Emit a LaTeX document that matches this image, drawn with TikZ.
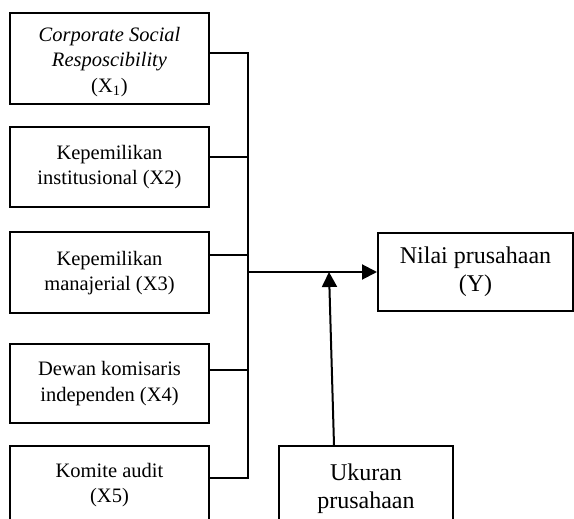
\documentclass[tikz,border=0pt]{standalone}
\usepackage{fontspec}
\setmainfont{Liberation Serif}
\usetikzlibrary{arrows.meta}
\begin{document}
\begin{tikzpicture}[x=0.5pt,y=-0.5pt,
  box/.style={draw, line width=1pt, inner sep=0pt, align=center},
  lt/.style={font=\fontsize{10.25}{12.6}\selectfont},
  rt/.style={font=\fontsize{12}{14.2}\selectfont},
  txt/.style={align=center, inner sep=0pt},
  wire/.style={line width=1pt},
  arr/.style={line width=1pt, -{Triangle[length=7.5pt,width=7.5pt]}}]
\useasboundingbox (0,0) rectangle (574,519);
\clip (0,0) rectangle (574,519);

% left boxes
\node[box, lt, minimum width=99.5pt, minimum height=45.5pt] (x1) at (109.5,58.5) {};
\node[txt, lt] (t1) at (109.5,62) {\textit{Corporate Social}\\\textit{Resposcibility}\\(X\textsubscript{1})};
\node[box, lt, minimum width=99.5pt, minimum height=40pt] (x2) at (109.5,167) {Kepemilikan\\institusional (X2)};
\node[box, lt, minimum width=99.5pt, minimum height=40.5pt] (x3) at (109.5,273) {Kepemilikan\\manajerial (X3)};
\node[box, lt, minimum width=99.5pt, minimum height=39.5pt] (x4) at (109.5,383.5) {Dewan komisaris\\independen (X4)};
\node[box, lt, minimum width=99.5pt, minimum height=57pt] (x5) at (109.5,503) {};
\node[txt, lt, anchor=north] (t5) at (109.5,463) {Komite audit\\(X5)};

% right boxes
\node[box, rt, minimum width=97.5pt, minimum height=39pt] (y) at (475.5,272) {Nilai prusahaan\\(Y)};
\node[box, rt, minimum width=87pt, minimum height=57pt] (uk) at (366,503) {};
\node[txt, rt, anchor=north] (tu) at (366,463) {Ukuran\\prusahaan};

% bus
\coordinate (bt) at (248,53);
\coordinate (bb) at (248,478);
\coordinate (c2) at (248,157);
\coordinate (c3) at (248,255);
\coordinate (c4) at (248,370);
\coordinate (m) at (248,272);
\coordinate (j) at (329,272);

\draw[wire] (x1.east |- bt) -- (bt) -- (bb) -- (x5.east |- bb);
\draw[wire] (x2.east |- c2) -- (c2);
\draw[wire] (x3.east |- c3) -- (c3);
\draw[wire] (x4.east |- c4) -- (c4);

\draw[arr] (m) -- (y.west);
\draw[arr] ([xshift=-16pt]uk.north) -- (j);
\end{tikzpicture}
\end{document}
